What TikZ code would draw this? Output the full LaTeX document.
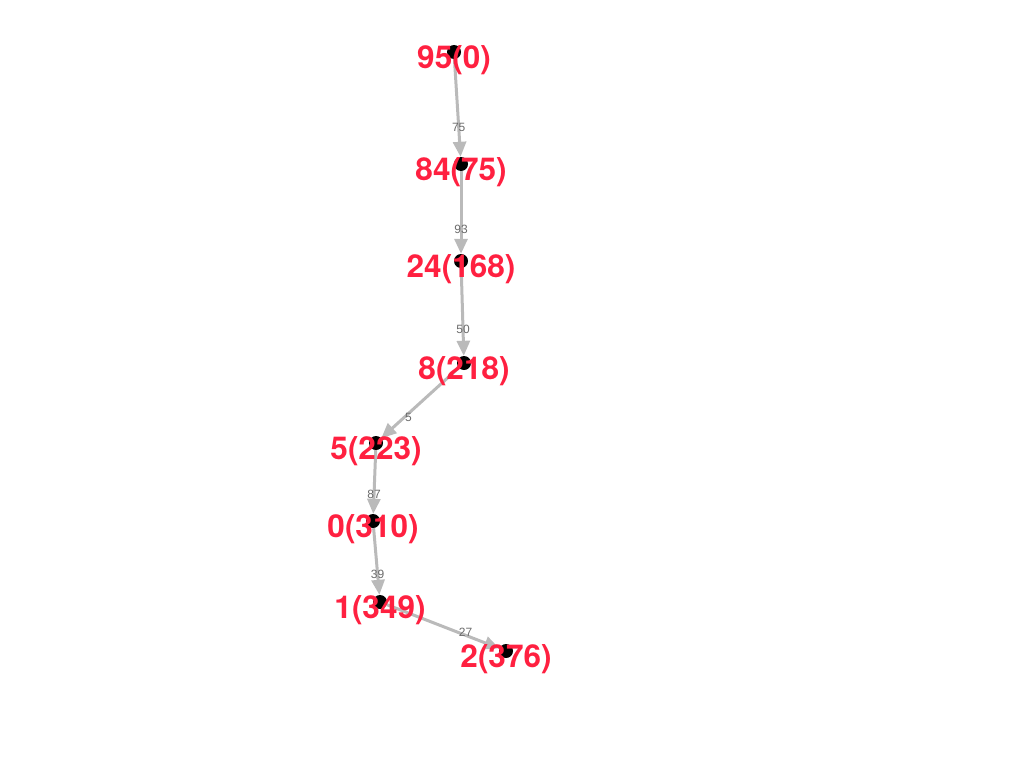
\documentclass[tikz,border=0pt]{standalone}
\usepackage{fontspec}
\setmainfont{Liberation Sans}
\newfontfamily\labelfont{TeX Gyre Heros}
\usetikzlibrary{arrows.meta}
\definecolor{labelred}{RGB}{255,32,64}

\begin{document}
\begin{tikzpicture}[
    x=1pt, y=-1pt,
    dot/.style={circle, fill=black, inner sep=0pt, minimum size=14pt},
    distlabel/.style={text=labelred, font=\labelfont\bfseries\fontsize{31.5}{31.5}\selectfont, inner sep=0pt},
    edge/.style={-{Triangle[length=15pt, width=13pt]}, line width=3pt, draw=black!27},
    weight/.style={font=\fontsize{12}{12}\selectfont, text=black!58, inner sep=0pt, pos=0.7}
]
\useasboundingbox (0,0) rectangle (1024,768);

% Path nodes (dots)
\node[dot] (n95) at (454,52) {};
\node[dot] (n84) at (461,164) {};
\node[dot] (n24) at (461,261) {};
\node[dot] (n8) at (464,363) {};
\node[dot] (n5) at (376,443) {};
\node[dot] (n0) at (373,521) {};
\node[dot] (n1) at (380,602) {};
\node[dot] (n2) at (506,651) {};

% Edges with weights
\draw[edge] (n95) -- node[weight] {75} (n84);
\draw[edge] (n84) -- node[weight] {93} (n24);
\draw[edge] (n24) -- node[weight] {50} (n8);
\draw[edge] (n8) -- node[weight, xshift=4pt] {5} (n5);
\draw[edge] (n5) -- node[weight] {87} (n0);
\draw[edge] (n0) -- node[weight] {39} (n1);
\draw[edge] (n1) -- node[weight, yshift=3pt] {27} (n2);

% Labels: node(distance)
\node[distlabel, yshift=-8pt] (l95) at (n95) {95(0)};
\node[distlabel, yshift=-8pt] (l84) at (n84) {84(75)};
\node[distlabel, yshift=-8pt] (l24) at (n24) {24(168)};
\node[distlabel, yshift=-8pt] (l8) at (n8) {8(218)};
\node[distlabel, yshift=-8pt] (l5) at (n5) {5(223)};
\node[distlabel, yshift=-8pt] (l0) at (n0) {0(310)};
\node[distlabel, yshift=-8pt] (l1) at (n1) {1(349)};
\node[distlabel, yshift=-8pt] (l2) at (n2) {2(376)};

\end{tikzpicture}
\end{document}
